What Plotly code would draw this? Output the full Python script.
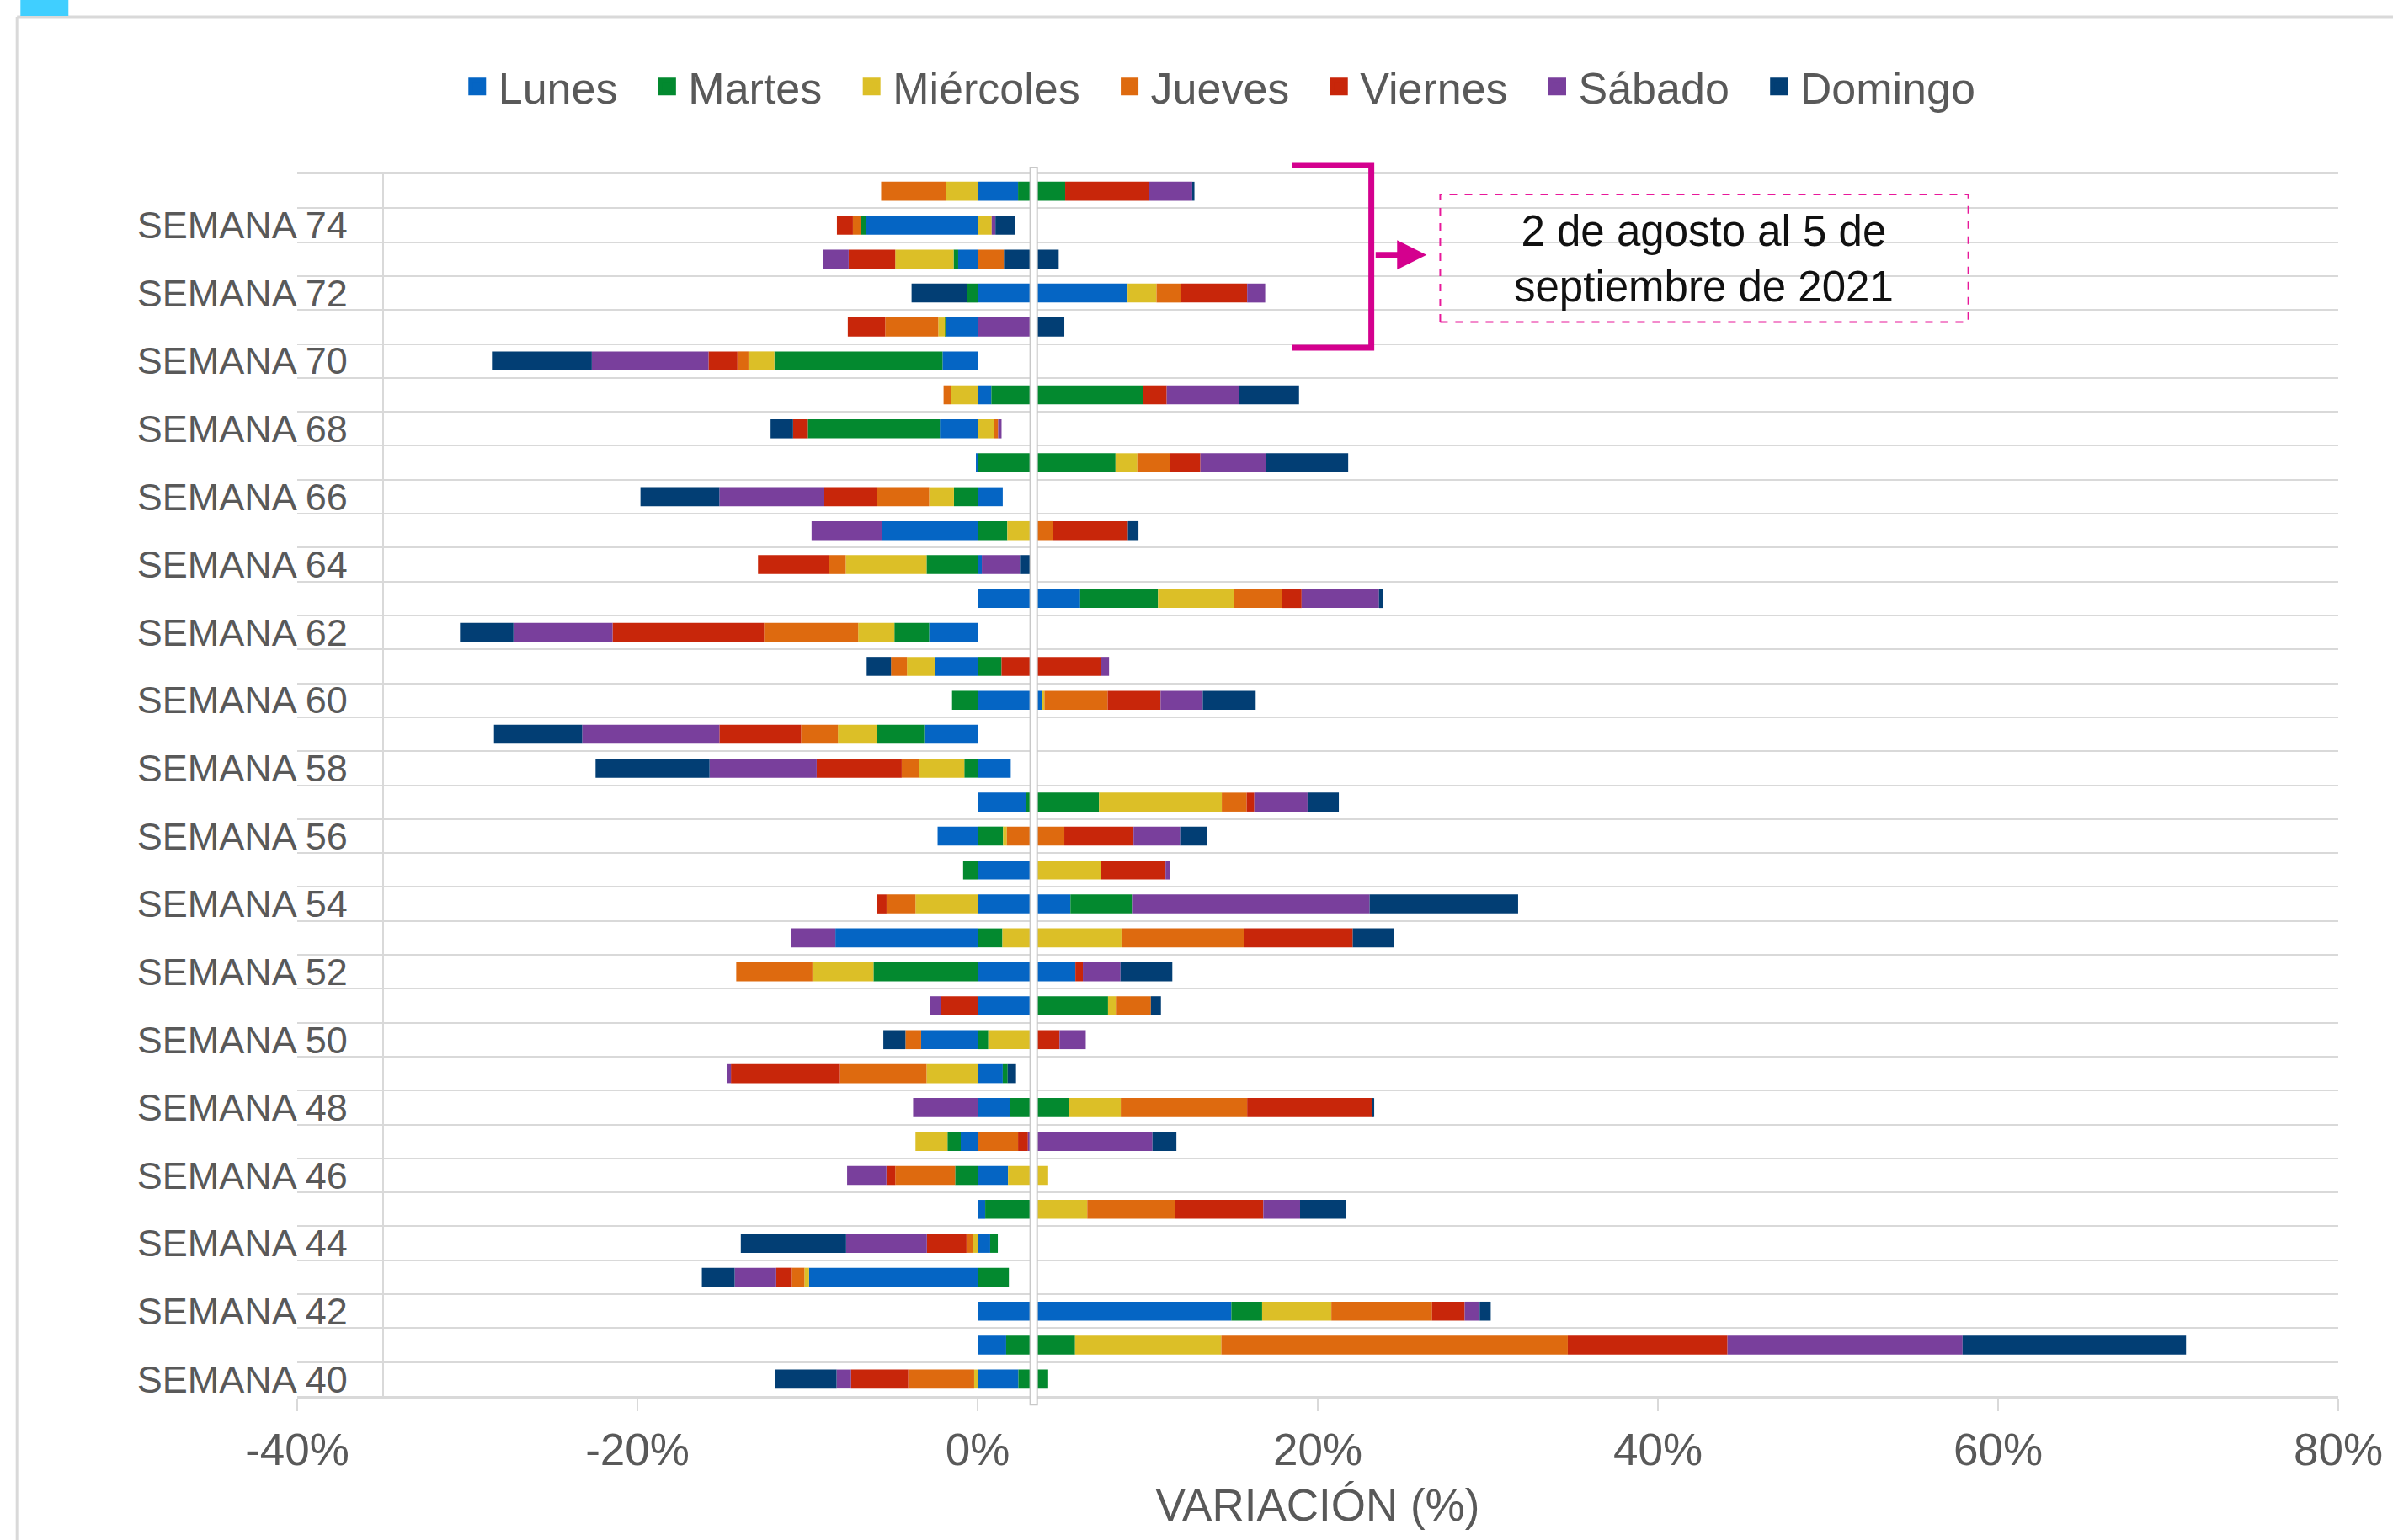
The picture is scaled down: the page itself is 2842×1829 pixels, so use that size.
import plotly.graph_objects as go

# weeks 40..75 (bottom to top)
semanas = list(range(40, 76))
dias = ["Lunes", "Martes", "Miércoles", "Jueves", "Viernes", "Sábado", "Domingo"]
colores = ["#0565C4", "#03892F", "#DCBF27", "#DE6A0F", "#C8260A", "#793F9C", "#023E74"]

# variation (%) per weekday, one value per week 40..75
lunes = [2.40, 1.68, 14.92, -9.91, 0.74, 0.45, 1.79, -0.99, 1.91, 1.48, -3.32, 3.30,
         5.75, -8.36, 5.46, 3.30, -2.35, 2.87, 1.95, -3.14, 3.80, -2.51, -2.85, 6.03,
         0.25, -5.61, 1.48, -0.09, -2.22, 0.81, -2.06, -1.86, 8.82, -1.14, -6.57, 2.38]
martes = [1.75, 4.05, 1.81, 1.84, 0.45, 2.85, -1.32, -0.78, 3.46, 0.29, 0.63, 4.37,
          -6.12, 1.46, 3.62, -0.85, 1.50, 4.27, -0.78, -2.76, -1.50, 1.41, -2.04, 4.58,
          -3.00, 1.75, -1.39, 8.11, -7.76, 8.91, -9.89, -0.05, -0.63, -0.27, -0.27, 2.77]
miercoles = [-0.20, 8.60, 4.07, -0.27, -0.27, 3.15, 2.36, -1.88, 3.05, -3.00, 2.67, 0.46,
             -3.59, 7.00, -3.65, 3.97, 0.22, 7.22, -2.67, -2.31, 0.13, -1.64, -2.13, 4.44,
             -4.75, 1.55, -1.46, 1.28, 0.94, -1.57, -1.52, -0.40, 1.70, -3.43, 0.83, -1.84]
jueves = [-3.88, 20.37, 5.92, -0.74, -0.38, 5.17, -3.52, 2.38, 7.43, -5.09, -0.92, 2.06,
          -4.48, 7.21, -1.70, 0.0, 3.38, 1.46, -1.01, -2.17, 3.72, -0.94, -5.54, 2.85,
          -1.01, 1.14, -3.07, 1.92, 0.27, -0.43, -0.65, -3.12, 1.41, 1.55, -0.49, -3.83]
viernes = [-3.36, 9.39, 1.92, -0.92, -2.33, 5.18, -0.52, 0.58, 7.40, -6.41, 1.52, -2.13,
           0.44, 6.39, -0.56, 3.78, 4.07, 0.45, -5.00, -4.80, 3.11, 5.84, -8.90, 1.15,
           -4.15, 4.40, -3.09, 1.79, -0.87, 1.40, -1.70, -2.20, 3.92, -2.74, -0.94, 4.93]
sabado = [-0.85, 13.82, 0.88, -2.44, -4.75, 2.16, -2.31, 7.32, -3.79, -0.22, 1.54, -0.67,
          2.21, -2.62, 13.97, 0.26, 2.74, 3.13, -6.30, -8.07, 2.48, 0.48, -5.83, 4.55,
          2.24, -4.15, -6.17, 3.87, 0.20, 4.26, -6.86, 3.30, 1.06, -1.50, 0.22, 2.54]
domingo = [-3.63, 13.14, 0.65, -1.93, -6.19, 2.70, 0.0, 1.41, 0.07, 0.49, -1.30, 0.59,
           3.05, 2.43, 8.73, 0.0, 1.59, 1.84, -6.70, -5.18, 3.11, -1.43, -3.14, 0.24,
           0.70, 0.62, -4.64, 4.82, -1.32, 3.52, -5.87, 1.80, -3.25, 3.22, 1.17, 0.13]

series = [lunes, martes, miercoles, jueves, viernes, sabado, domingo]

semana_ticks = list(range(40, 76, 2))
semana_labels = ["SEMANA %d" % s for s in semana_ticks]
x_ticks = [-40, -20, 0, 20, 40, 60, 80]
x_labels = ["-40%", "-20%", "0%", "20%", "40%", "60%", "80%"]

FONT = "Liberation Sans, Arial, sans-serif"
GRAY = "#595959"
GRID = "#D9D9D9"
MAGENTA = "#D4008E"

fig = go.Figure()
for dia, vals, col in zip(dias, series, colores):
    fig.add_trace(go.Bar(y=semanas, x=vals, orientation="h", name=dia,
                         marker=dict(color=col, line=dict(width=0)),
                         showlegend=False))
# legend proxies (bigger square symbols, wider spacing)
for dia, col in zip(dias, colores):
    fig.add_trace(go.Scatter(x=[None], y=[None], mode="markers", name=dia + "\u00a0\u00a0",
                             marker=dict(symbol="square", size=16, color=col,
                                         line=dict(width=5, color=col))))

# white separator band near 3.3%
fig.add_shape(type="rect", xref="x", yref="paper", x0=3.1, x1=3.5, y0=-0.007, y1=1.0055,
              fillcolor="white", line=dict(color="#C8C8C8", width=2), layer="above")

# bracket + arrow + dashed box
fig.add_shape(type="path", xref="x", yref="paper",
              path="M 18.5,1.0076 L 23.15,1.0076 L 23.15,0.858 L 18.5,0.858",
              line=dict(color=MAGENTA, width=7))
fig.add_annotation(xref="x", yref="paper", x=26.4, y=0.934, ax=-62, ay=0,
                   axref="pixel", ayref="pixel", text="", showarrow=True,
                   arrowhead=2, arrowsize=1, arrowwidth=7, arrowcolor=MAGENTA)
fig.add_shape(type="rect", xref="x", yref="paper", x0=27.2, x1=58.25, y0=0.879, y1=0.9835,
              line=dict(color="#E8189A", width=2, dash="dash"), fillcolor="rgba(0,0,0,0)")
fig.add_annotation(xref="x", yref="paper", x=42.72, y=0.931, showarrow=False,
                   xanchor="center", yanchor="middle",
                   text="2 de agosto al 5 de<br>septiembre de 2021",
                   font=dict(family=FONT, size=51, color="#111111"))

# slide frame and corner mark
fig.add_shape(type="line", xref="paper", yref="paper", x0=-0.1373, x1=-0.1373, y0=-0.2, y1=1.1289,
              line=dict(color=GRID, width=3))
fig.add_shape(type="line", xref="paper", yref="paper", x0=-0.1373, x1=1.1, y0=1.1289, y1=1.1289,
              line=dict(color=GRID, width=3))
fig.add_shape(type="rect", xref="paper", yref="paper", x0=-0.1356, x1=-0.1121, y0=1.1296, y1=1.15,
              fillcolor="#40CFFF", line=dict(width=0))

fig.update_layout(
    width=2842, height=1829,
    margin=dict(l=353, r=63, t=207, b=171),
    barmode="relative", bargap=0.44,
    plot_bgcolor="white", paper_bgcolor="white",
    font=dict(family=FONT, color=GRAY),
    legend=dict(orientation="h", x=0.457, xanchor="center", y=1.0717, yanchor="middle",
                font=dict(size=52, color=GRAY), itemwidth=40),
)
fig.update_xaxes(range=[-40, 80], tickvals=x_ticks, ticktext=x_labels,
                 tickfont=dict(size=53, color=GRAY), showgrid=False, zeroline=False,
                 showline=True, linecolor=GRID, linewidth=3, mirror=True,
                 ticks="outside", ticklen=15, tickcolor=GRID, tickwidth=2,
                 title=dict(text="VARIACIÓN (%)", font=dict(size=53, color=GRAY), standoff=20))
fig.update_yaxes(range=[39.5, 75.5], tickvals=semana_ticks, ticktext=semana_labels,
                 tickfont=dict(size=45, color=GRAY), showgrid=False, zeroline=False,
                 anchor="free", position=0.042, showline=True, linecolor=GRID, linewidth=2,
                 ticklabelstandoff=32,
                 minor=dict(tick0=0.5, dtick=1, showgrid=True, gridcolor=GRID, gridwidth=2))

# drop the default 8px page margin so the figure fills the window exactly
fig.write_html("out.html", config={"displayModeBar": False},
               post_script="document.body.style.margin='0';document.body.style.overflow='hidden';")
